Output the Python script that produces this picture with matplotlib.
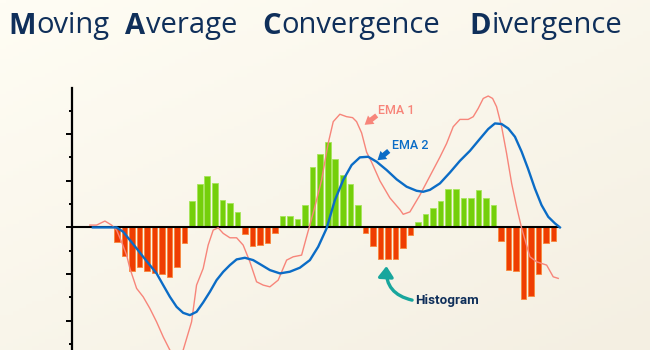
import numpy as np
import matplotlib
matplotlib.use("Agg")
import matplotlib.pyplot as plt
from matplotlib.colors import LinearSegmentedColormap

# histogram values, one per bar (bar index 0..58)
hist = [-3.1, -6.2, -9.3, -8.4, -9.3, -9.7, -9.9, -10.7, -8.4, -3.3,
        5.6, 9.2, 11.0, 9.5, 5.9, 5.2, 3.4,
        -1.5, -4.0, -3.8, -3.3, -1.2,
        2.4, 2.4, 1.8, 4.9, 13.0, 15.7, 18.3, 14.7, 11.3, 9.2, 4.9,
        -1.3, -4.0, -6.8, -6.8, -6.8, -4.4, -1.6,
        1.1, 2.8, 4.1, 5.7, 8.2, 8.2, 6.4, 6.2, 8.0, 6.4, 4.9,
        -3.0, -9.2, -9.4, -15.4, -14.8, -9.9, -3.3, -3.0]

# EMA 1 (fast, salmon)
ema1_x = [-3.59, -2.70, -1.59, -0.70, -0.04, 0.62, 1.29, 1.73, 2.62, 3.49, 4.38,
          5.27, 6.15, 7.04, 7.90, 8.80, 9.92, 10.58, 11.46, 12.12, 12.79, 13.45,
          14.12, 15.01, 15.90, 16.77, 17.66, 18.55, 19.43, 20.32, 21.42, 22.54,
          23.41, 24.53, 25.19, 26.29, 27.18, 28.06, 28.73, 29.61, 30.5, 31.3,
          31.83, 32.5, 33.16, 33.82, 34.93, 36.25, 37.58, 38.02, 38.91, 40.24,
          41.57, 42.9, 43.78, 44.66, 45.55, 46.65, 47.32, 47.98, 48.65, 49.31,
          49.89, 50.42, 51.09, 51.75, 52.42, 53.08, 53.75, 54.85, 55.74, 57.07,
          57.94, 58.61]
ema1_y = [0.49, 0.49, 1.36, 0.49, -0.58, -3.09, -5.95, -8.80, -13.09, -14.89, -17.38,
          -20.26, -23.48, -26.33, -30.19, -26.33, -20.26, -12.38, -8.80, -3.80, -0.58, -0.09,
          -1.29, -2.23, -2.23, -3.80, -7.38, -11.67, -12.38, -12.75, -11.31, -7.02,
          -6.31, -5.95, -2.02, 4.42, 10.15, 18.03, 22.68, 24.27, 23.75, 23.54,
          22.68, 20.26, 16.14, 14.01, 9.98, 6.33, 3.82, 2.81, 3.32, 6.93,
          11.01, 15.09, 17.98, 21.59, 23.16, 23.16, 23.74, 25.52, 27.66, 28.18,
          27.66, 25.88, 21.59, 15.87, 9.44, 4.42, -0.21, -6.31, -7.38, -8.09,
          -10.60, -10.94]

# EMA 2 (slow, blue)
ema2_x = [-3.19, -0.04, 0.84, 1.73, 2.62, 3.49, 4.38, 5.27, 6.15, 7.04, 7.93, 8.80,
          9.69, 10.58, 11.46, 12.35, 13.24, 14.12, 15.01, 15.90, 17.0, 18.1, 19.22,
          20.32, 21.65, 22.97, 24.3, 25.63, 26.73, 27.85, 28.95, 30.05, 31.17,
          32.27, 33.37, 34.49, 35.82, 37.15, 38.47, 39.8, 40.68, 41.57, 42.9,
          44.22, 45.55, 46.88, 48.21, 49.31, 50.2, 51.09, 51.97, 52.86, 53.75,
          54.58, 55.5, 56.39, 57.28, 58.17, 58.83]
ema2_y = [0, 0, -0.94, -2.73, -4.51, -6.31, -8.09, -9.87, -12.38, -14.89, -17.04, -18.33,
          -18.82, -18.11, -16.09, -13.82, -11.31, -9.53, -8.09, -6.87, -6.52, -7.02, -8.09,
          -9.16, -9.87, -9.51, -8.65, -7.02, -4.16, -0.21, 5.86, 10.15, 13.37,
          15.02, 15.15, 14.08, 12.3, 10.3, 8.73, 7.85, 7.64, 8.05, 9.44,
          11.76, 14.27, 16.42, 19.0, 21.1, 22.3, 22.17, 21.22, 19.44, 16.22,
          12.66, 8.37, 4.78, 2.27, 0.86, 0]

title_words = ["Moving", "Average", "Convergence", "Divergence"]

bg_top = "#fffdf4"
bg_bot = "#f4efe2"
navy = "#0f2f5a"
salmon = "#f7857a"
blue = "#0b6cc6"
green = "#74cf0b"
red = "#ef3d02"
teal = "#18a69d"

fig = plt.figure(figsize=(6.5, 3.5), dpi=100)

# soft cream background
bg = fig.add_axes([0, 0, 1, 1], zorder=-10)
gy, gx = np.mgrid[0:1:100j, 0:1:100j]
grad = np.clip(0.55 * gy + 0.45 * gx, 0, 1)
cmap = LinearSegmentedColormap.from_list("bg", [bg_top, bg_bot])
bg.imshow(grad, cmap=cmap, aspect="auto", extent=[0, 1, 0, 1], origin="upper")
bg.axis("off")

ax = fig.add_axes([0.1103, 0.0, 0.811, 0.7486])
ax.patch.set_alpha(0)

idx = np.arange(len(hist))
h = np.array(hist)
cols = [green if v > 0 else red for v in h]
edges = ["#a6e55a" if v > 0 else "#f7883c" for v in h]
ax.bar(idx, h, width=0.74, color=cols, edgecolor=edges, linewidth=0.6, zorder=2)

ax.hlines(0, -6, 58.7, color="black", lw=1.5, zorder=3)
ax.plot(ema1_x, ema1_y, color=salmon, lw=1.0, zorder=4)
ax.plot(ema2_x, ema2_y, color=blue, lw=1.7, zorder=5, solid_joinstyle="round")

ax.set_xlim(-6, 64)
ax.set_ylim(-26.3, 29.9)
for s in ["top", "right", "bottom"]:
    ax.spines[s].set_visible(False)
ax.spines["left"].set_linewidth(1.6)
ax.set_xticks([])
ax.set_yticks([-20, -10, 0, 10, 20])
ax.set_yticks([-25, -15, -5, 5, 15, 25], minor=True)
ax.tick_params(axis="y", which="major", length=4.3, width=1.4, labelleft=False)
ax.tick_params(axis="y", which="minor", length=2.5, width=1.4)

lab = dict(family=["Roboto", "DejaVu Sans"], fontsize=9, weight="medium")
fat = "simple,head_width=0.95,head_length=0.75,tail_width=0.45"
ax.annotate("", xy=(32.9, 22.0), xytext=(34.5, 24.0),
            arrowprops=dict(arrowstyle=fat, color=salmon, lw=0, mutation_scale=8,
                            shrinkA=0, shrinkB=0), zorder=6)
ax.text(37.1, 25.0, "EMA 1", color=salmon, ha="center", va="center", **lab)
ax.annotate("", xy=(34.6, 14.4), xytext=(36.1, 16.4),
            arrowprops=dict(arrowstyle=fat, color=blue, lw=0, mutation_scale=8,
                            shrinkA=0, shrinkB=0), zorder=6)
ax.text(38.9, 17.5, "EMA 2", color=blue, ha="center", va="center", **lab)
ax.annotate("", xy=(35.8, -8.3), xytext=(39.2, -15.6),
            arrowprops=dict(arrowstyle="-|>,head_width=0.5,head_length=0.7",
                            connectionstyle="arc3,rad=-0.42",
                            color=teal, lw=2.4, mutation_scale=9,
                            shrinkA=0, shrinkB=0), zorder=6)
ax.text(43.9, -15.6, "Histogram", color=navy, ha="center", va="center",
        family=["Roboto", "DejaVu Sans"], fontsize=9.6, weight="bold")

# title with bold initials
renderer = fig.canvas.get_renderer()
starts = [8, 125, 262, 469]
for x0, w in zip(starts, title_words):
    t = fig.text(x0 / 650, 1 - 33.5 / 350, w[0], color=navy, fontsize=21,
                 weight="bold", family=["Open Sans", "DejaVu Sans"], va="baseline")
    bb = t.get_window_extent(renderer)
    fig.text(bb.x1 / 650 + 0.001, 1 - 33.5 / 350, w[1:], color=navy, fontsize=21,
             family=["Open Sans", "DejaVu Sans"], va="baseline")

fig.savefig("out.png", dpi=100)
